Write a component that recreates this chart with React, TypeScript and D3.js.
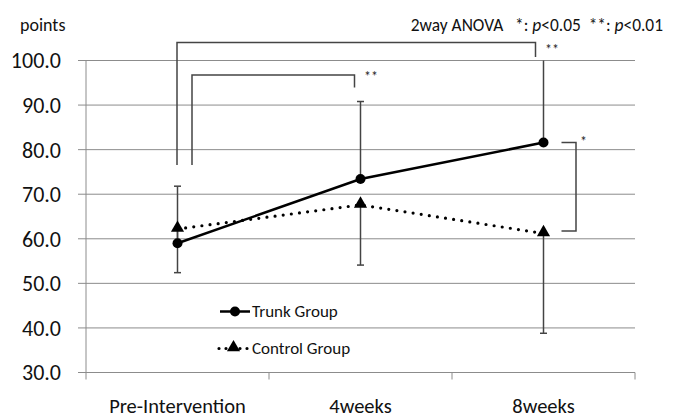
import { useEffect, useRef } from "react";
import * as d3 from "d3";

const categories = ["Pre-Intervention", "4weeks", "8weeks"];
const trunkMean = [59.0, 73.4, 81.6];
const trunkErrUp = [12.8, 17.4, 20.0];
const controlMean = [62.2, 67.6, 61.2];
const controlErrDown = [9.8, 13.5, 22.4];
const yTicks = [30, 40, 50, 60, 70, 80, 90, 100];
const seriesNames = ["Trunk Group", "Control Group"];

const W = 673;
const H = 418;
const FONT = "Carlito, Calibri, Lato, 'Open Sans', sans-serif";

const App = () => {
  const ref = useRef<SVGSVGElement | null>(null);

  useEffect(() => {
    const svg = d3.select(ref.current);
    svg.selectAll("*").remove();

    const left = 86;
    const right = 635;
    const x = d3.scaleBand().domain(categories).range([left, right]);
    const y = d3.scaleLinear().domain([30, 100]).range([372.5, 60.5]);
    const cx = (c: string) => (x(c) as number) + x.bandwidth() / 2;
    const axisColor = "#8c8c8c";

    // grid
    svg.append("g")
      .selectAll("line")
      .data(yTicks.slice(1))
      .join("line")
      .attr("x1", left).attr("x2", right)
      .attr("y1", d => y(d)).attr("y2", d => y(d))
      .attr("stroke", axisColor).attr("stroke-width", 1);

    // axes
    svg.append("line")
      .attr("x1", left).attr("x2", left).attr("y1", y(100)).attr("y2", y(30))
      .attr("stroke", axisColor);
    svg.append("line")
      .attr("x1", left - 8).attr("x2", right).attr("y1", y(30)).attr("y2", y(30))
      .attr("stroke", axisColor);
    const bounds = [...categories.map(c => x(c) as number), right];
    svg.append("g")
      .selectAll("line")
      .data(bounds)
      .join("line")
      .attr("x1", d => d).attr("x2", d => d)
      .attr("y1", y(30)).attr("y2", y(30) + 7)
      .attr("stroke", axisColor);

    svg.append("g")
      .selectAll("line")
      .data(yTicks)
      .join("line")
      .attr("x1", left - 8).attr("x2", left)
      .attr("y1", d => y(d)).attr("y2", d => y(d))
      .attr("stroke", axisColor);

    svg.append("g")
      .attr("font-family", FONT).attr("font-size", 22).attr("fill", "#111")
      .attr("text-anchor", "end")
      .selectAll("text")
      .data(yTicks)
      .join("text")
      .attr("x", 61).attr("y", d => y(d)).attr("dy", "0.36em")
      .text(d => d3.format(".1f")(d));

    svg.append("g")
      .attr("font-family", FONT).attr("font-size", 20.5).attr("fill", "#111")
      .attr("text-anchor", "middle")
      .selectAll("text")
      .data(categories)
      .join("text")
      .attr("x", d => cx(d)).attr("y", 413)
      .text(d => d);

    svg.append("text")
      .attr("x", 20).attr("y", 31)
      .attr("font-family", FONT).attr("font-size", 18).attr("fill", "#111")
      .text("points");

    const note = svg.append("text")
      .attr("x", 663).attr("y", 31).attr("text-anchor", "end")
      .attr("font-family", FONT).attr("font-size", 17.4).attr("fill", "#111");
    note.append("tspan").text("2way ANOVA\u00a0\u00a0\u00a0*: ");
    note.append("tspan").attr("font-style", "italic").text("p");
    note.append("tspan").text("<0.05\u00a0\u00a0**: ");
    note.append("tspan").attr("font-style", "italic").text("p");
    note.append("tspan").text("<0.01");

    // error bars
    const errColor = "#444";
    categories.forEach((c, i) => {
      const top = Math.min(100, trunkMean[i] + trunkErrUp[i]);
      svg.append("line")
        .attr("x1", cx(c)).attr("x2", cx(c))
        .attr("y1", y(trunkMean[i])).attr("y2", y(top))
        .attr("stroke", errColor).attr("stroke-width", 1.5);
      if (top < 100) {
        svg.append("line")
          .attr("x1", cx(c) - 3.5).attr("x2", cx(c) + 3.5)
          .attr("y1", y(top)).attr("y2", y(top))
          .attr("stroke", errColor).attr("stroke-width", 1.5);
      }
      const bot = controlMean[i] - controlErrDown[i];
      svg.append("line")
        .attr("x1", cx(c)).attr("x2", cx(c))
        .attr("y1", y(controlMean[i])).attr("y2", y(bot))
        .attr("stroke", errColor).attr("stroke-width", 1.5);
      svg.append("line")
        .attr("x1", cx(c) - 3.5).attr("x2", cx(c) + 3.5)
        .attr("y1", y(bot)).attr("y2", y(bot))
        .attr("stroke", errColor).attr("stroke-width", 1.5);
    });

    const line = d3.line<number>().x((_, i) => cx(categories[i])).y(d => y(d));

    // control line (dotted)
    svg.append("path")
      .attr("d", line(controlMean))
      .attr("fill", "none").attr("stroke", "#000").attr("stroke-width", 3.2)
      .attr("stroke-linecap", "round").attr("stroke-dasharray", "0 8.2");
    const tri = d3.symbol().type(d3.symbolTriangle).size(75);
    svg.append("g")
      .selectAll("path")
      .data(controlMean)
      .join("path")
      .attr("d", tri)
      .attr("transform", (d, i) => `translate(${cx(categories[i])},${y(d) - 1})`)
      .attr("fill", "#000");

    // trunk line
    svg.append("path")
      .attr("d", line(trunkMean))
      .attr("fill", "none").attr("stroke", "#000").attr("stroke-width", 2.5);
    svg.append("g")
      .selectAll("circle")
      .data(trunkMean)
      .join("circle")
      .attr("cx", (_, i) => cx(categories[i])).attr("cy", d => y(d))
      .attr("r", 5).attr("fill", "#000");

    // significance brackets
    const br = svg.append("g").attr("fill", "none").attr("stroke", "#444").attr("stroke-width", 1.5);
    br.append("path").attr("d", `M177,165 V42.5 H535.5 V57`);
    br.append("path").attr("d", `M192,165 V75 H354.5 V87.5`);
    br.append("path").attr("d", `M561.5,${y(trunkMean[2])} H576 V231 H561.5`);
    const stars = svg.append("g").attr("font-family", FONT).attr("font-size", 14).attr("fill", "#222");
    stars.append("text").attr("x", 545).attr("y", 54).text("**");
    stars.append("text").attr("x", 364).attr("y", 81).text("**");
    stars.append("text").attr("x", 580).attr("y", 146).text("*");

    // legend
    const lg = svg.append("g").attr("font-family", FONT).attr("font-size", 17).attr("fill", "#111");
    lg.append("line").attr("x1", 220).attr("x2", 250).attr("y1", 311.5).attr("y2", 311.5)
      .attr("stroke", "#000").attr("stroke-width", 2.5);
    lg.append("circle").attr("cx", 235).attr("cy", 311.5).attr("r", 5).attr("fill", "#000");
    lg.append("text").attr("x", 252).attr("y", 311.5).attr("dy", "0.35em").text(seriesNames[0]);
    lg.append("line").attr("x1", 219).attr("x2", 248).attr("y1", 348.5).attr("y2", 348.5)
      .attr("stroke", "#000").attr("stroke-width", 3.2)
      .attr("stroke-linecap", "round").attr("stroke-dasharray", "0 7");
    lg.append("path").attr("d", tri).attr("transform", "translate(233.5,347.5)").attr("fill", "#000");
    lg.append("text").attr("x", 252).attr("y", 348.5).attr("dy", "0.35em").text(seriesNames[1]);
  }, []);

  return (
    <div style={{ position: "absolute", left: 0, top: 0 }}>
      <svg ref={ref} width={W} height={H} style={{ display: "block", background: "#fff" }} />
    </div>
  );
};

export default App;
